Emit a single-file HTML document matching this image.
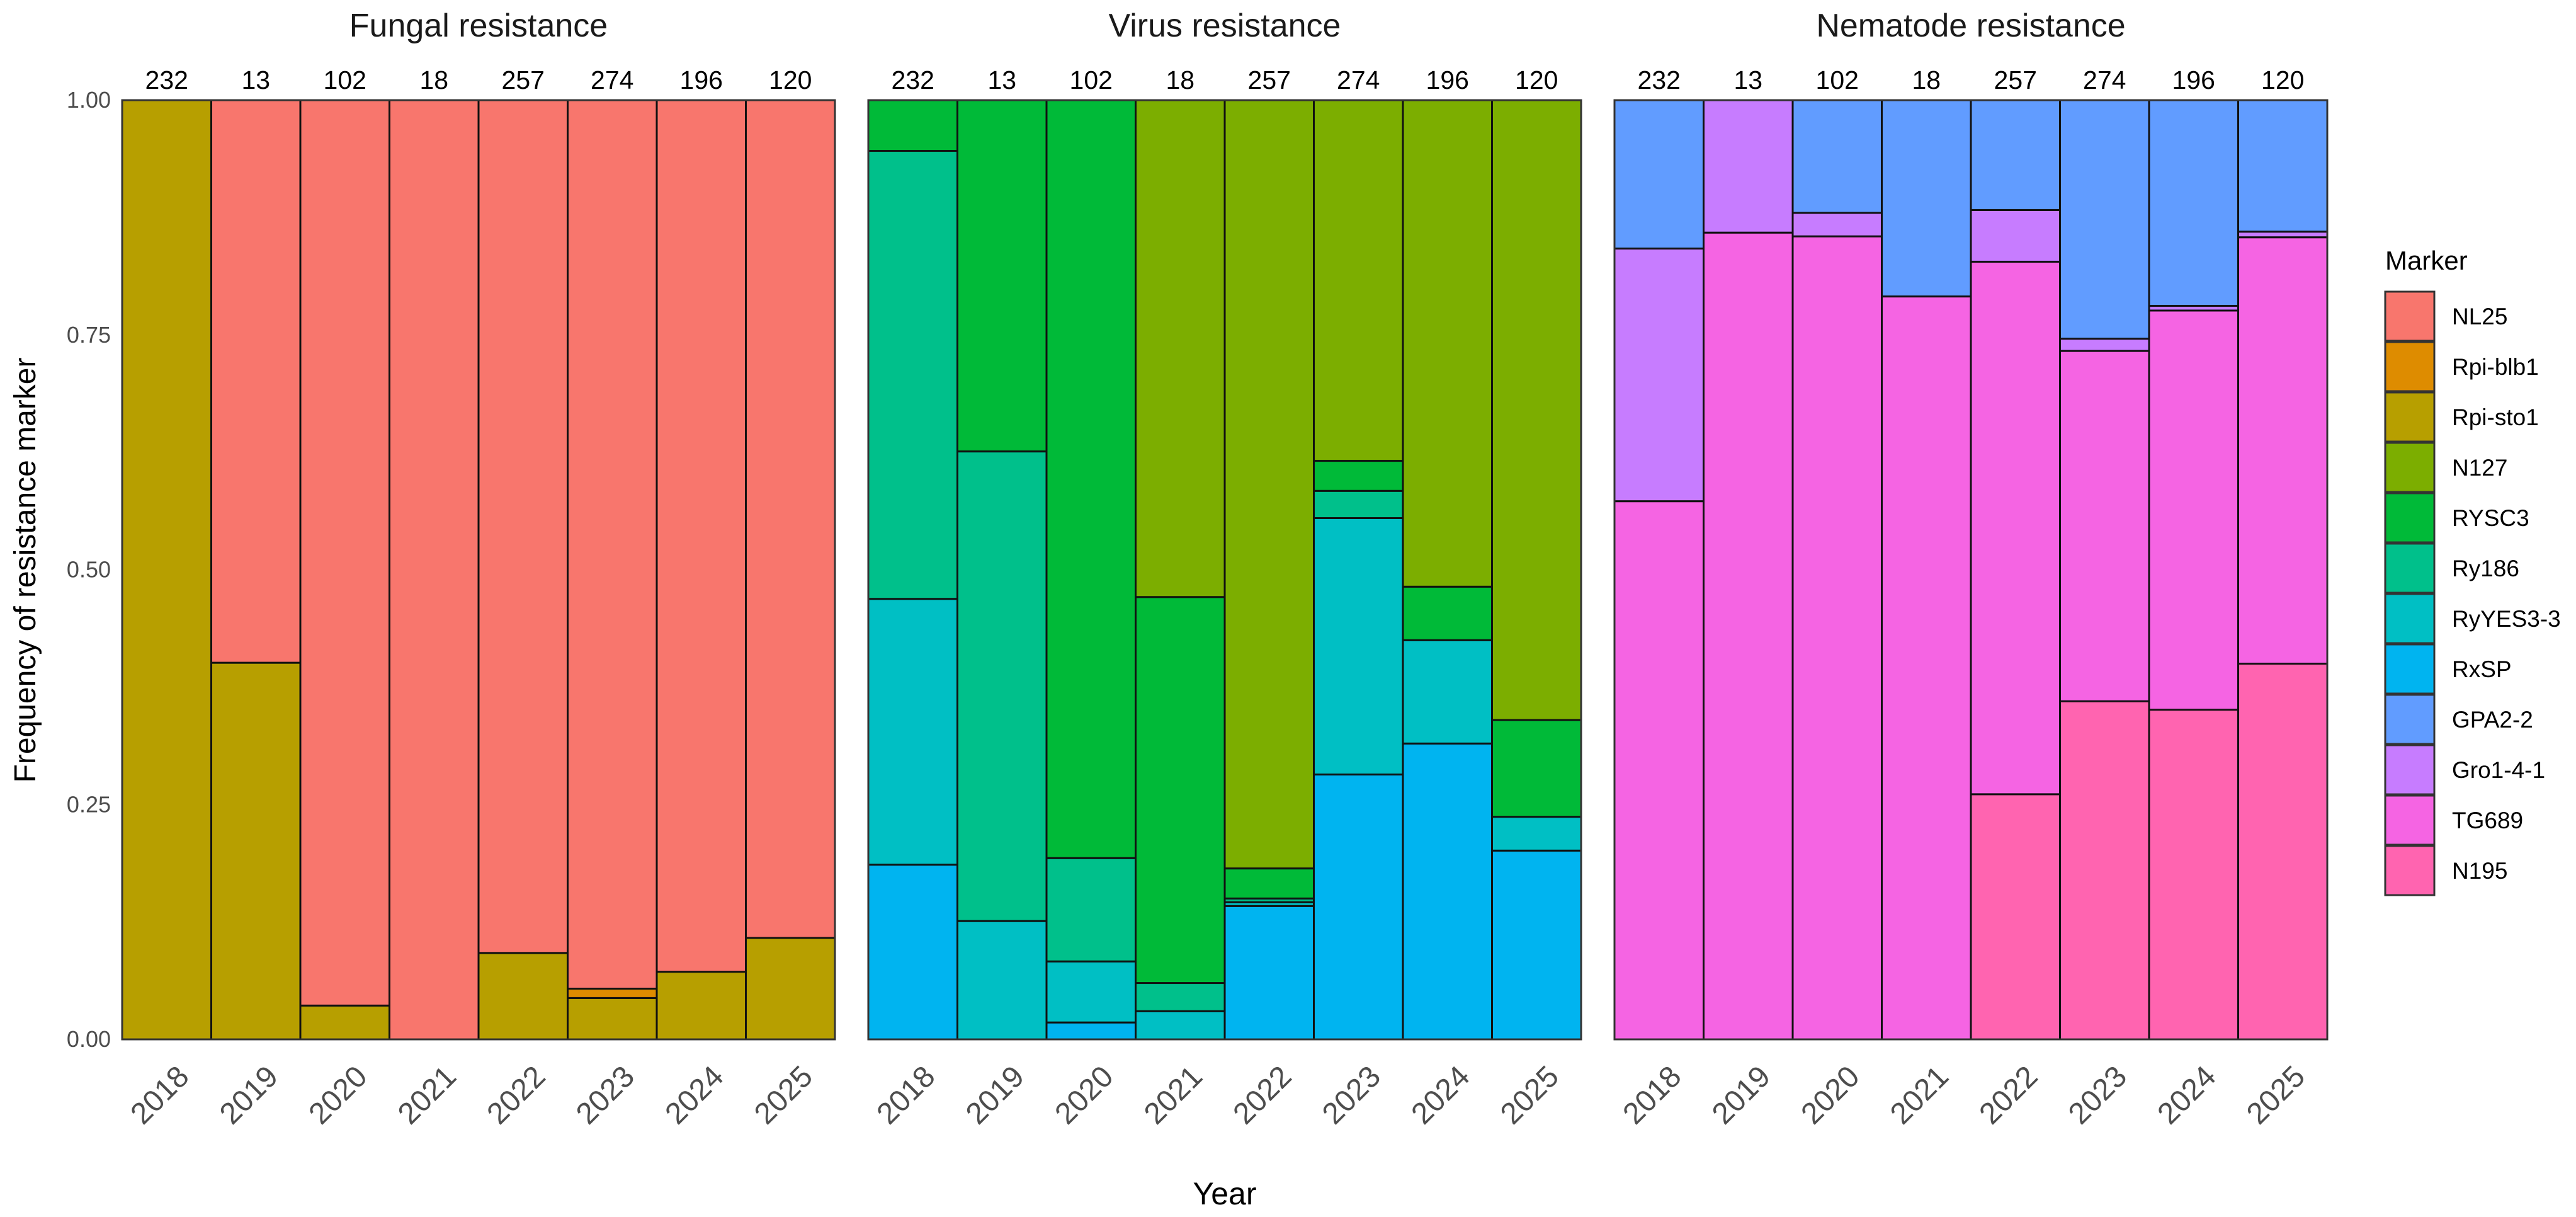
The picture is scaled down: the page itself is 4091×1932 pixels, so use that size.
<!DOCTYPE html>
<html><head><meta charset="utf-8">
<style>
html,body{margin:0;padding:0;background:#fff;}
svg{display:block;font-family:"Liberation Sans",Arial,sans-serif;}
</style></head>
<body>
<svg id="chart" width="4091" height="1932" viewBox="0 0 4091 1932" xmlns="http://www.w3.org/2000/svg">
<text x="0" y="0" transform="translate(56,905) rotate(-90)" text-anchor="middle" font-size="48" fill="#000">Frequency of resistance marker</text>
<text x="1945" y="1912" text-anchor="middle" font-size="50" fill="#000">Year</text>
<g id="panels"></g>
<g id="legend"></g>
</svg>
<script>
const years = ["2018","2019","2020","2021","2022","2023","2024","2025"];
const counts = ["232","13","102","18","257","274","196","120"];
const yTicks = [0, 0.25, 0.5, 0.75, 1];
const yTickLabels = ["0.00","0.25","0.50","0.75","1.00"];
const markerNames = ["NL25","Rpi-blb1","Rpi-sto1","N127","RYSC3","Ry186","RyYES3-3","RxSP","GPA2-2","Gro1-4-1","TG689","N195"];
const markerColors = ["#F8766D","#DE8C00","#B79F00","#7CAE00","#00BA38","#00C08B","#00BFC4","#00B4F0","#619CFF","#C77CFF","#F564E3","#FF64B0"];
const panelTitles = ["Fungal resistance","Virus resistance","Nematode resistance"];
// series stacked bottom -> top; values are proportions per year
const fungalMarkers = ["Rpi-sto1","Rpi-blb1","NL25"];
const fungalRpiSto1 = [1.0,0.401,0.036,0.0,0.092,0.044,0.072,0.108];
const fungalRpiBlb1 = [0,0,0,0,0,0.010,0,0];
const fungalNL25 = [0,0.599,0.964,1.0,0.908,0.946,0.928,0.892];
const virusMarkers = ["RxSP","RyYES3-3","Ry186","RYSC3","N127"];
const virusRxSP = [0.186,0.0,0.018,0.0,0.142,0.282,0.315,0.201];
const virusRyYES33 = [0.283,0.126,0.065,0.030,0.004,0.273,0.110,0.036];
const virusRy186 = [0.477,0.500,0.110,0.030,0.004,0.029,0.0,0.0];
const virusRYSC3 = [0.054,0.374,0.807,0.411,0.032,0.032,0.057,0.103];
const virusN127 = [0,0,0,0.529,0.818,0.384,0.518,0.660];
const nemaMarkers = ["N195","TG689","Gro1-4-1","GPA2-2"];
const nemaN195 = [0,0,0,0,0.261,0.360,0.351,0.400];
const nemaTG689 = [0.573,0.859,0.855,0.791,0.567,0.373,0.425,0.454];
const nemaGro141 = [0.269,0.141,0.025,0.0,0.055,0.013,0.005,0.006];
const nemaGPA22 = [0.158,0,0.120,0.209,0.117,0.254,0.219,0.140];

const panelSeries = [
  [fungalRpiSto1,fungalRpiBlb1,fungalNL25],
  [virusRxSP,virusRyYES33,virusRy186,virusRYSC3,virusN127],
  [nemaN195,nemaTG689,nemaGro141,nemaGPA22]
];
const panelMarkers = [fungalMarkers,virusMarkers,nemaMarkers];

const NS="http://www.w3.org/2000/svg";
const panelLeft=[194,1379,2564], panelW=1132, plotTop=159, plotBottom=1650;
const yScale = v => plotBottom - v*(plotBottom-plotTop);
const bw = panelW/years.length;
const xScale = (p,i) => panelLeft[p] + i*bw;
function mk(tag, attrs, parent){const e=document.createElementNS(NS,tag);for(const k in attrs)e.setAttribute(k,attrs[k]);parent.appendChild(e);return e;}
const g=document.getElementById('panels');
const colorOf = m => markerColors[markerNames.indexOf(m)];

yTicks.forEach((t,i)=>{
  const tx=mk('text',{x:176,y:yScale(t)+12,'text-anchor':'end','font-size':36,fill:'#4d4d4d'},g);
  
  
  tx.textContent=yTickLabels[i];
});

panelSeries.forEach((series,p)=>{
  const pg=mk('g',{},g);
  
  
  const tt=mk('text',{x:panelLeft[p]+panelW/2,y:58,'text-anchor':'middle','font-size':52,fill:'#1a1a1a'},pg);
  
  
  tt.textContent=panelTitles[p];
  years.forEach((yr,i)=>{
    let cum=0;
    series.forEach((vals,s)=>{
      const v=vals[i]; if(!(v>0)) return;
      const y0=yScale(cum), y1=yScale(cum+v);
      const r=mk('rect',{x:xScale(p,i),y:y1,width:bw,height:y0-y1,fill:colorOf(panelMarkers[p][s]),stroke:'#111','stroke-width':3},pg);
      
      
      cum+=v;
    });
    const c=mk('text',{x:xScale(p,i)+bw/2,y:141,'text-anchor':'middle','font-size':41,fill:'#000'},pg);
    
    
    c.textContent=counts[i];
    const cx=xScale(p,i)+bw/2+38, cy=1712;
    const xl=mk('text',{x:cx,y:cy,'text-anchor':'end','font-size':48,fill:'#4d4d4d',transform:`rotate(-45 ${cx} ${cy})`},pg);
    
    
    xl.textContent=yr;
  });
  const b=mk('rect',{x:panelLeft[p],y:plotTop,width:panelW,height:plotBottom-plotTop,fill:'none',stroke:'#333','stroke-width':3},pg);
  
  
});

const lg=document.getElementById('legend');
const lt=mk('text',{x:3788,y:428,'font-size':42,fill:'#000'},lg);


lt.textContent='Marker';
markerNames.forEach((m,i)=>{
  const y=463+i*80;
  const r=mk('rect',{x:3788,y:y,width:78,height:78,fill:markerColors[i],stroke:'#333','stroke-width':3},lg);
  
  
  const t=mk('text',{x:3894,y:y+52,'font-size':37,fill:'#000'},lg);
  
  
  t.textContent=m;
});
</script>
</body></html>
